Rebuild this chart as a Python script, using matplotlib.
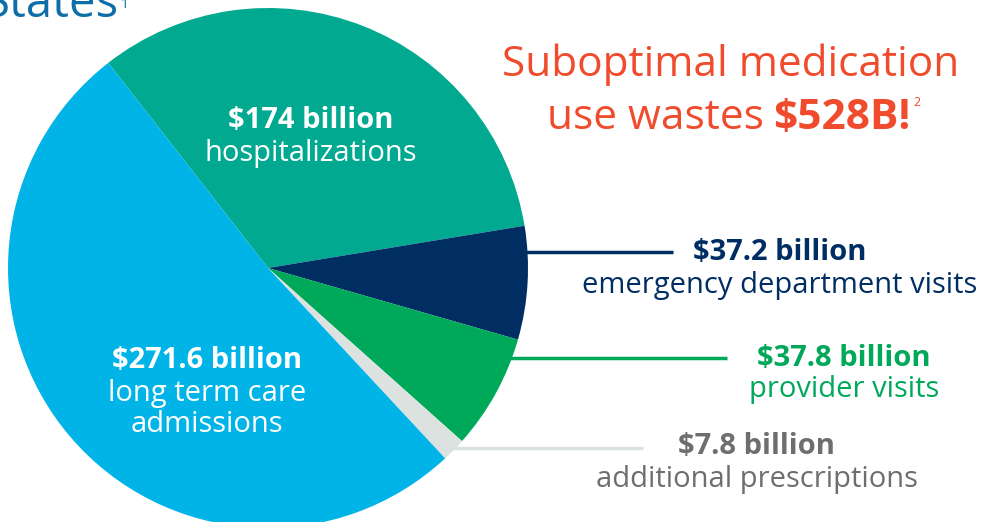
import matplotlib
matplotlib.use("Agg")
import matplotlib.pyplot as plt

# Data
categories = ["hospitalizations", "emergency department visits", "provider visits",
              "additional prescriptions", "long term care admissions"]
values = [174.0, 37.2, 37.8, 7.8, 271.6]
value_labels = ["$174 billion", "$37.2 billion", "$37.8 billion", "$7.8 billion", "$271.6 billion"]
colors = ["#00A990", "#002D62", "#00A85A", "#DCE2E0", "#00B4E8"]

W, H = 982, 522
fig = plt.figure(figsize=(W / 100, H / 100), dpi=100)
ax = fig.add_axes([0, 0, 1, 1])

def Y(y):
    return H - y

FONT = "Open Sans"

ax.pie(values, colors=colors, startangle=127.9, counterclock=False,
       center=(268, Y(268)), radius=260, frame=True,
       wedgeprops=dict(linewidth=0))
ax.set_xlim(0, W)
ax.set_ylim(0, H)
ax.set_aspect("equal")
ax.axis("off")

# Header fragment
ax.text(-16, Y(17), "States", fontsize=34, color="#0D6EA8", family=FONT,
        ha="left", va="baseline")
ax.text(121, Y(4), "1", fontsize=10, color="#0D6EA8", family=FONT,
        ha="left", va="center")

# Title
red = "#F04B2C"
TS = 30.5
ax.text(731, Y(76), "Suboptimal medication", fontsize=TS, color=red, family=FONT,
        ha="center", va="baseline")
ax.text(547, Y(129), "use wastes", fontsize=TS, color=red, family=FONT,
        ha="left", va="baseline")
ax.text(773, Y(129), "$528B!", fontsize=TS, color=red, family=FONT,
        fontweight="bold", ha="left", va="baseline", parse_math=False)
ax.text(913, Y(103), "2", fontsize=9, color=red, family=FONT,
        ha="left", va="center")

LS = 21
d = 3
# inside labels
ax.text(311, Y(118 + d), value_labels[0], fontsize=LS, color="white", family=FONT,
        fontweight="bold", ha="center", va="center", parse_math=False)
ax.text(311, Y(150 + d), categories[0], fontsize=LS, color="white", family=FONT,
        ha="center", va="center")
ax.text(207, Y(357 + d), value_labels[4], fontsize=LS, color="white", family=FONT,
        fontweight="bold", ha="center", va="center", parse_math=False)
ax.text(207, Y(390 + d), "long term care", fontsize=LS, color="white", family=FONT,
        ha="center", va="center")
ax.text(207, Y(422 + d), "admissions", fontsize=LS, color="white", family=FONT,
        ha="center", va="center")

# leader lines
ax.plot([523, 673], [Y(252), Y(252)], color=colors[1], lw=2.5, solid_capstyle="butt")
ax.plot([503, 727], [Y(358), Y(358)], color=colors[2], lw=2.5, solid_capstyle="butt")
ax.plot([447, 643], [Y(448), Y(448)], color=colors[3], lw=2.5, solid_capstyle="butt")

# outside labels
ax.text(780, Y(250 + d), value_labels[1], fontsize=LS, color="#002D62", family=FONT,
        fontweight="bold", ha="center", va="center", parse_math=False)
ax.text(780, Y(282 + d), categories[1], fontsize=LS, color="#002D62", family=FONT,
        ha="center", va="center")
ax.text(844, Y(355 + d), value_labels[2], fontsize=LS, color="#00A85A", family=FONT,
        fontweight="bold", ha="center", va="center", parse_math=False)
ax.text(844, Y(387 + d), categories[2], fontsize=LS, color="#00A85A", family=FONT,
        ha="center", va="center")
ax.text(757, Y(443 + d), value_labels[3], fontsize=LS, color="#6D6E70", family=FONT,
        fontweight="bold", ha="center", va="center", parse_math=False)
ax.text(757, Y(476 + d), categories[3], fontsize=LS, color="#6D6E70", family=FONT,
        ha="center", va="center")

fig.savefig("out.png", dpi=100)
